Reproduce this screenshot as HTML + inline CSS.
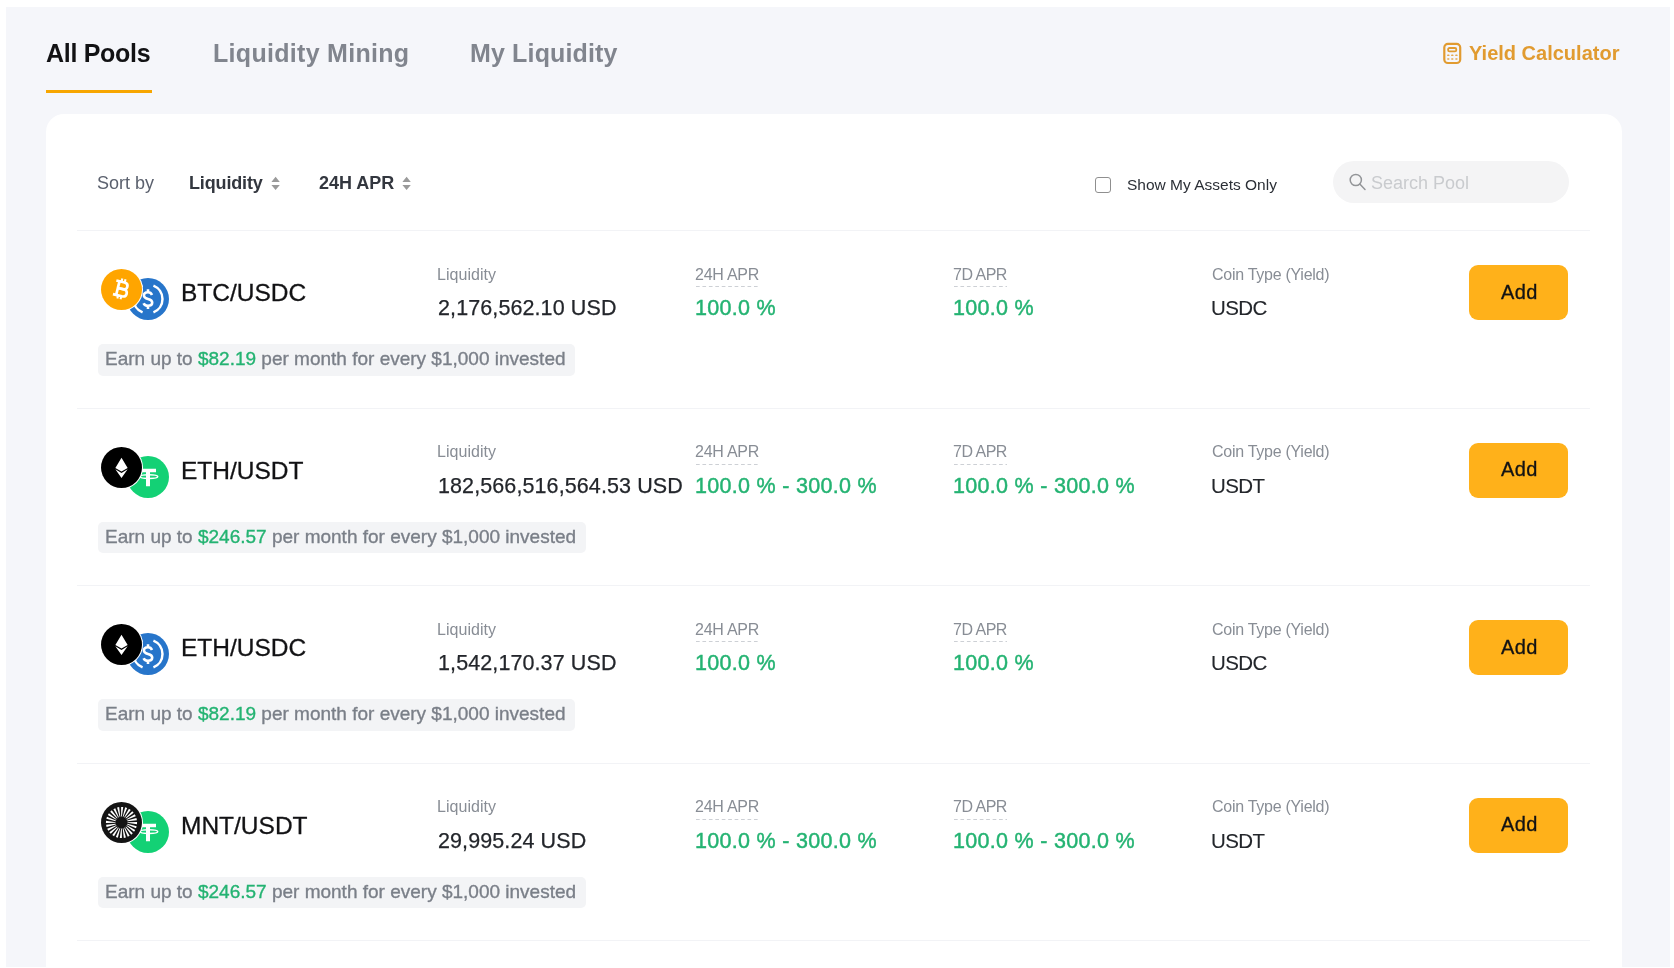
<!DOCTYPE html>
<html><head><meta charset="utf-8">
<style>
*{box-sizing:border-box;margin:0;padding:0}
html,body{width:1674px;height:968px;overflow:hidden;background:#fff;font-family:"Liberation Sans",sans-serif}
.a{position:absolute;white-space:nowrap;line-height:1;will-change:transform}
#bg{position:absolute;left:6px;top:7px;width:1664px;height:960px;background:#F5F6FA}
#card{position:absolute;left:46px;top:114px;width:1576px;height:900px;background:#fff;border-radius:18px}
.sep{position:absolute;left:77px;width:1513px;height:1px;background:#F2F3F6}
.ic{position:absolute;width:40px;height:40px}
.btn{position:absolute;left:1469px;width:99px;height:55px;border-radius:9px;background:#FFB11A}
.ban{position:absolute;left:98px;height:31.5px;border-radius:5px;background:#F3F4F6}
.dash{position:absolute;height:1.2px;background-image:linear-gradient(to right,#CDD0D5 0,#CDD0D5 4px,transparent 4px);background-size:6.45px 1.2px}
</style></head><body>
<div id="bg"></div>
<div class="a" style="left:45.5px;top:41.34px;font-size:25px;font-weight:700;color:#121214;letter-spacing:-0.3px">All Pools</div>
<div class="a" style="left:212.5px;top:41.34px;font-size:25px;font-weight:700;color:#81858E;letter-spacing:0.3px">Liquidity Mining</div>
<div class="a" style="left:469.5px;top:41.34px;font-size:25px;font-weight:700;color:#81858E;letter-spacing:0.15px">My Liquidity</div>
<div class="a" style="left:46px;top:90px;width:106px;height:3px;background:#F7A600"></div>
<svg class="a" style="left:1443px;top:42px" width="19" height="23" viewBox="0 0 19 23" fill="none" stroke="#E19B30">
<rect x="1.3" y="1.95" width="15.9" height="19.05" rx="3.6" stroke-width="2.2"/>
<rect x="5.1" y="6" width="8.2" height="3.3" rx="1.4" stroke-width="1.8"/>
<g fill="#E19B30" stroke="none" opacity="0.85">
<rect x="4.1" y="12.5" width="2.4" height="1.6" rx=".7"/><rect x="8.1" y="12.5" width="2.4" height="1.6" rx=".7"/><rect x="12.2" y="12.5" width="2.4" height="1.6" rx=".7"/>
<rect x="4.1" y="16.2" width="2.4" height="1.6" rx=".7"/><rect x="8.1" y="16.2" width="2.4" height="1.6" rx=".7"/><rect x="12.2" y="16.2" width="2.4" height="1.6" rx=".7"/>
</g></svg>
<div class="a" style="left:1469px;top:43.32px;font-size:20px;font-weight:700;color:#E19B30;">Yield Calculator</div>
<div id="card"></div>
<div class="a" style="left:97px;top:173.96px;font-size:18px;font-weight:400;color:#5B616E;">Sort by</div>
<div class="a" style="left:189px;top:173.96px;font-size:18px;font-weight:700;color:#33373F;letter-spacing:-0.15px">Liquidity</div>
<div class="a" style="left:318.5px;top:173.96px;font-size:18px;font-weight:700;color:#33373F;">24H APR</div>
<svg class="a" style="left:271px;top:176px" width="10" height="15" viewBox="0 0 10 15"><path d="M0.4 5.9 L4.6 0.8 L8.8 5.9Z M0.4 8.9 L8.8 8.9 L4.6 14Z" fill="#9A9A9A"/></svg>
<svg class="a" style="left:402.4px;top:176px" width="10" height="15" viewBox="0 0 10 15"><path d="M0.4 5.9 L4.6 0.8 L8.8 5.9Z M0.4 8.9 L8.8 8.9 L4.6 14Z" fill="#9A9A9A"/></svg>
<div class="a" style="left:1095px;top:177px;width:16px;height:16px;border:1.3px solid #8F8F8F;border-radius:3px"></div>
<div class="a" style="left:1127px;top:176.78px;font-size:15.5px;font-weight:400;color:#2B2F36;">Show My Assets Only</div>
<div class="a" style="left:1333px;top:161px;width:236px;height:42px;border-radius:21px;background:#F4F4F5"></div>
<svg class="a" style="left:1348px;top:172px" width="20" height="20" viewBox="0 0 20 20" fill="none" stroke="#939598" stroke-width="1.5"><circle cx="7.8" cy="8" r="5.6"/><path d="M11.8 12 L17 17.4" stroke-linecap="round"/></svg>
<div class="a" style="left:1371px;top:173.56px;font-size:18px;font-weight:400;color:#C9CBCE;">Search Pool</div>
<div class="sep" style="top:230px"></div>
<div class="a" style="left:127.2px;top:278.0px"><svg style="width:42px;height:42px;display:block" viewBox="0 0 42 42"><circle cx="21" cy="21" r="21" fill="#2775CA"/>
<path d="M15.57 7.56 A14.5 14.5 0 0 0 15.57 34.44 M26.43 7.56 A14.5 14.5 0 0 1 26.43 34.44" fill="none" stroke="#fff" stroke-width="2.5"/>
<path d="M25 16.9 C24.3 15.2 22.8 14.3 21 14.3 C18.5 14.3 16.9 15.7 16.9 17.6 C16.9 19.6 18.6 20.4 21 21 C23.5 21.6 25.2 22.5 25.2 24.6 C25.2 26.6 23.4 27.8 21 27.8 C18.9 27.8 17.3 26.9 16.6 25.2 M21 11.2 V14.3 M21 27.8 V30.9" fill="none" stroke="#fff" stroke-width="2.6"/>
</svg></div>
<div class="a" style="left:99.7px;top:268.1px;width:42.6px;height:42.6px;border-radius:50%;background:#fff;padding:.8px"><svg style="width:41px;height:41px;display:block" viewBox="0 0 40 40"><circle cx="20" cy="20" r="20" fill="#FFA500"/>
<g transform="translate(-0.3 -0.7) rotate(14 20.5 20.3)" fill="none" stroke="#fff" stroke-width="2.6">
<path d="M16.6 12.3 V28.3"/>
<path d="M13.4 13.4 H21.6 C24.2 13.4 25.3 14.9 25.3 16.7 C25.3 18.6 24.1 20.1 21.6 20.1 H16.6"/>
<path d="M16.6 20.1 H22.2 C24.9 20.1 26.3 21.6 26.3 23.7 C26.3 25.7 24.9 27.1 22.2 27.1 H13.4"/>
<path d="M18.6 10.2 V13.4 M21.8 10.2 V13.4 M18.6 27 V30.2 M21.8 27 V30.2" stroke-width="2"/>
</g></svg></div>
<div class="a" style="left:180.5px;top:281.16px;font-size:24.5px;font-weight:400;color:#121214;-webkit-text-stroke:0.3px #121214">BTC/USDC</div>
<div class="a" style="left:437px;top:266.66px;font-size:16px;font-weight:400;color:#888D95;letter-spacing:0.05px">Liquidity</div>
<div class="a" style="left:695px;top:266.66px;font-size:16px;font-weight:400;color:#888D95;letter-spacing:-0.25px">24H APR</div>
<div class="dash" style="left:696px;top:286.0px;width:64px"></div>
<div class="a" style="left:953px;top:266.66px;font-size:16px;font-weight:400;color:#888D95;letter-spacing:-0.5px">7D APR</div>
<div class="dash" style="left:954px;top:286.0px;width:53px"></div>
<div class="a" style="left:1211.5px;top:266.66px;font-size:16px;font-weight:400;color:#888D95;letter-spacing:-0.27px">Coin Type (Yield)</div>
<div class="a" style="left:437.5px;top:298.00px;font-size:21.5px;font-weight:400;color:#23262B;letter-spacing:0.1px;-webkit-text-stroke:0.25px #23262B">2,176,562.10 USD</div>
<div class="a" style="left:695px;top:298.00px;font-size:21.5px;font-weight:400;color:#24B372;letter-spacing:0.3px;-webkit-text-stroke:0.45px #24B372">100.0 %</div>
<div class="a" style="left:953px;top:298.00px;font-size:21.5px;font-weight:400;color:#24B372;letter-spacing:0.3px;-webkit-text-stroke:0.45px #24B372">100.0 %</div>
<div class="a" style="left:1211px;top:298.05px;font-size:20.5px;font-weight:400;color:#23262B;letter-spacing:-0.6px;-webkit-text-stroke:0.1px #23262B">USDC</div>
<div class="btn" style="top:265.0px"></div>
<div class="a" style="left:1500.5px;top:281.77px;font-size:20px;font-weight:400;color:#121214;letter-spacing:0.4px;-webkit-text-stroke:0.3px #121214">Add</div>
<div class="ban" style="top:344.0px;width:477px"></div>
<div class="a" style="left:105px;top:349.02px;font-size:19px;font-weight:400;color:#7A7F88;-webkit-text-stroke:0.35px #7A7F88">Earn up to <span style="color:#24B372;-webkit-text-stroke:0.35px #24B372">$82.19</span> per month for every $1,000 invested</div>
<div class="sep" style="top:407.5px"></div>
<div class="a" style="left:127.2px;top:455.5px"><svg style="width:42px;height:42px;display:block" viewBox="0 0 42 42"><circle cx="21" cy="21" r="21" fill="#13D175"/>
<path fill="#fff" d="M15 12.8h14v3.5h-6v13.9h-4V16.3h-4z"/>
<ellipse cx="21.9" cy="20.6" rx="8.9" ry="1.9" fill="none" stroke="#fff" stroke-width="1.4"/></svg></div>
<div class="a" style="left:99.7px;top:445.6px;width:42.6px;height:42.6px;border-radius:50%;background:#fff;padding:.8px"><svg style="width:41px;height:41px;display:block" viewBox="0 0 40 40"><circle cx="20" cy="20" r="20" fill="#000"/>
<path fill="#fff" d="M20 10.4 L26 20.4 L20 24 L14 20.4Z M20 25.4 L26 21.8 L20 30.2 L14 21.8Z"/></svg></div>
<div class="a" style="left:180.5px;top:458.66px;font-size:24.5px;font-weight:400;color:#121214;-webkit-text-stroke:0.3px #121214">ETH/USDT</div>
<div class="a" style="left:437px;top:444.16px;font-size:16px;font-weight:400;color:#888D95;letter-spacing:0.05px">Liquidity</div>
<div class="a" style="left:695px;top:444.16px;font-size:16px;font-weight:400;color:#888D95;letter-spacing:-0.25px">24H APR</div>
<div class="dash" style="left:696px;top:463.5px;width:64px"></div>
<div class="a" style="left:953px;top:444.16px;font-size:16px;font-weight:400;color:#888D95;letter-spacing:-0.5px">7D APR</div>
<div class="dash" style="left:954px;top:463.5px;width:53px"></div>
<div class="a" style="left:1211.5px;top:444.16px;font-size:16px;font-weight:400;color:#888D95;letter-spacing:-0.27px">Coin Type (Yield)</div>
<div class="a" style="left:437.5px;top:475.50px;font-size:21.5px;font-weight:400;color:#23262B;letter-spacing:0.1px;-webkit-text-stroke:0.25px #23262B">182,566,516,564.53 USD</div>
<div class="a" style="left:695px;top:475.50px;font-size:21.5px;font-weight:400;color:#24B372;letter-spacing:0.3px;-webkit-text-stroke:0.45px #24B372">100.0 % - 300.0 %</div>
<div class="a" style="left:953px;top:475.50px;font-size:21.5px;font-weight:400;color:#24B372;letter-spacing:0.3px;-webkit-text-stroke:0.45px #24B372">100.0 % - 300.0 %</div>
<div class="a" style="left:1211px;top:475.55px;font-size:20.5px;font-weight:400;color:#23262B;letter-spacing:-0.6px;-webkit-text-stroke:0.1px #23262B">USDT</div>
<div class="btn" style="top:442.5px"></div>
<div class="a" style="left:1500.5px;top:459.27px;font-size:20px;font-weight:400;color:#121214;letter-spacing:0.4px;-webkit-text-stroke:0.3px #121214">Add</div>
<div class="ban" style="top:521.5px;width:487.5px"></div>
<div class="a" style="left:105px;top:526.52px;font-size:19px;font-weight:400;color:#7A7F88;-webkit-text-stroke:0.35px #7A7F88">Earn up to <span style="color:#24B372;-webkit-text-stroke:0.35px #24B372">$246.57</span> per month for every $1,000 invested</div>
<div class="sep" style="top:585.0px"></div>
<div class="a" style="left:127.2px;top:633.0px"><svg style="width:42px;height:42px;display:block" viewBox="0 0 42 42"><circle cx="21" cy="21" r="21" fill="#2775CA"/>
<path d="M15.57 7.56 A14.5 14.5 0 0 0 15.57 34.44 M26.43 7.56 A14.5 14.5 0 0 1 26.43 34.44" fill="none" stroke="#fff" stroke-width="2.5"/>
<path d="M25 16.9 C24.3 15.2 22.8 14.3 21 14.3 C18.5 14.3 16.9 15.7 16.9 17.6 C16.9 19.6 18.6 20.4 21 21 C23.5 21.6 25.2 22.5 25.2 24.6 C25.2 26.6 23.4 27.8 21 27.8 C18.9 27.8 17.3 26.9 16.6 25.2 M21 11.2 V14.3 M21 27.8 V30.9" fill="none" stroke="#fff" stroke-width="2.6"/>
</svg></div>
<div class="a" style="left:99.7px;top:623.1px;width:42.6px;height:42.6px;border-radius:50%;background:#fff;padding:.8px"><svg style="width:41px;height:41px;display:block" viewBox="0 0 40 40"><circle cx="20" cy="20" r="20" fill="#000"/>
<path fill="#fff" d="M20 10.4 L26 20.4 L20 24 L14 20.4Z M20 25.4 L26 21.8 L20 30.2 L14 21.8Z"/></svg></div>
<div class="a" style="left:180.5px;top:636.16px;font-size:24.5px;font-weight:400;color:#121214;-webkit-text-stroke:0.3px #121214">ETH/USDC</div>
<div class="a" style="left:437px;top:621.66px;font-size:16px;font-weight:400;color:#888D95;letter-spacing:0.05px">Liquidity</div>
<div class="a" style="left:695px;top:621.66px;font-size:16px;font-weight:400;color:#888D95;letter-spacing:-0.25px">24H APR</div>
<div class="dash" style="left:696px;top:641.0px;width:64px"></div>
<div class="a" style="left:953px;top:621.66px;font-size:16px;font-weight:400;color:#888D95;letter-spacing:-0.5px">7D APR</div>
<div class="dash" style="left:954px;top:641.0px;width:53px"></div>
<div class="a" style="left:1211.5px;top:621.66px;font-size:16px;font-weight:400;color:#888D95;letter-spacing:-0.27px">Coin Type (Yield)</div>
<div class="a" style="left:437.5px;top:653.00px;font-size:21.5px;font-weight:400;color:#23262B;letter-spacing:0.1px;-webkit-text-stroke:0.25px #23262B">1,542,170.37 USD</div>
<div class="a" style="left:695px;top:653.00px;font-size:21.5px;font-weight:400;color:#24B372;letter-spacing:0.3px;-webkit-text-stroke:0.45px #24B372">100.0 %</div>
<div class="a" style="left:953px;top:653.00px;font-size:21.5px;font-weight:400;color:#24B372;letter-spacing:0.3px;-webkit-text-stroke:0.45px #24B372">100.0 %</div>
<div class="a" style="left:1211px;top:653.05px;font-size:20.5px;font-weight:400;color:#23262B;letter-spacing:-0.6px;-webkit-text-stroke:0.1px #23262B">USDC</div>
<div class="btn" style="top:620.0px"></div>
<div class="a" style="left:1500.5px;top:636.77px;font-size:20px;font-weight:400;color:#121214;letter-spacing:0.4px;-webkit-text-stroke:0.3px #121214">Add</div>
<div class="ban" style="top:699.0px;width:477px"></div>
<div class="a" style="left:105px;top:704.02px;font-size:19px;font-weight:400;color:#7A7F88;-webkit-text-stroke:0.35px #7A7F88">Earn up to <span style="color:#24B372;-webkit-text-stroke:0.35px #24B372">$82.19</span> per month for every $1,000 invested</div>
<div class="sep" style="top:762.5px"></div>
<div class="a" style="left:127.2px;top:810.5px"><svg style="width:42px;height:42px;display:block" viewBox="0 0 42 42"><circle cx="21" cy="21" r="21" fill="#13D175"/>
<path fill="#fff" d="M15 12.8h14v3.5h-6v13.9h-4V16.3h-4z"/>
<ellipse cx="21.9" cy="20.6" rx="8.9" ry="1.9" fill="none" stroke="#fff" stroke-width="1.4"/></svg></div>
<div class="a" style="left:99.7px;top:800.6px;width:42.6px;height:42.6px;border-radius:50%;background:#fff;padding:.8px"><svg style="width:41px;height:41px;display:block" viewBox="0 0 40 40"><circle cx="20" cy="20" r="20" fill="#141414"/><path d="M25.79 19.65 L35.20 19.62 L35.11 21.68 L25.79 20.35ZM25.68 21.16 L34.78 23.57 L34.16 25.54 L25.50 21.83ZM25.19 22.59 L33.35 27.27 L32.24 29.01 L24.84 23.20ZM24.34 23.85 L31.01 30.48 L29.49 31.87 L23.85 24.34ZM23.20 24.84 L27.93 32.97 L26.10 33.92 L22.59 25.19ZM21.83 25.50 L24.30 34.58 L22.28 35.03 L21.16 25.68ZM20.35 25.79 L20.38 35.20 L18.32 35.11 L19.65 25.79ZM18.84 25.68 L16.43 34.78 L14.46 34.16 L18.17 25.50ZM17.41 25.19 L12.73 33.35 L10.99 32.24 L16.80 24.84ZM16.15 24.34 L9.52 31.01 L8.13 29.49 L15.66 23.85ZM15.16 23.20 L7.03 27.93 L6.08 26.10 L14.81 22.59ZM14.50 21.83 L5.42 24.30 L4.97 22.28 L14.32 21.16ZM14.21 20.35 L4.80 20.38 L4.89 18.32 L14.21 19.65ZM14.32 18.84 L5.22 16.43 L5.84 14.46 L14.50 18.17ZM14.81 17.41 L6.65 12.73 L7.76 10.99 L15.16 16.80ZM15.66 16.15 L8.99 9.52 L10.51 8.13 L16.15 15.66ZM16.80 15.16 L12.07 7.03 L13.90 6.08 L17.41 14.81ZM18.17 14.50 L15.70 5.42 L17.72 4.97 L18.84 14.32ZM19.65 14.21 L19.62 4.80 L21.68 4.89 L20.35 14.21ZM21.16 14.32 L23.57 5.22 L25.54 5.84 L21.83 14.50ZM22.59 14.81 L27.27 6.65 L29.01 7.76 L23.20 15.16ZM23.85 15.66 L30.48 8.99 L31.87 10.51 L24.34 16.15ZM24.84 16.80 L32.97 12.07 L33.92 13.90 L25.19 17.41ZM25.50 18.17 L34.58 15.70 L35.03 17.72 L25.68 18.84Z" fill="#fff"/><circle cx="20" cy="20" r="4.4" fill="#141414"/></svg></div>
<div class="a" style="left:180.5px;top:813.66px;font-size:24.5px;font-weight:400;color:#121214;-webkit-text-stroke:0.3px #121214">MNT/USDT</div>
<div class="a" style="left:437px;top:799.16px;font-size:16px;font-weight:400;color:#888D95;letter-spacing:0.05px">Liquidity</div>
<div class="a" style="left:695px;top:799.16px;font-size:16px;font-weight:400;color:#888D95;letter-spacing:-0.25px">24H APR</div>
<div class="dash" style="left:696px;top:818.5px;width:64px"></div>
<div class="a" style="left:953px;top:799.16px;font-size:16px;font-weight:400;color:#888D95;letter-spacing:-0.5px">7D APR</div>
<div class="dash" style="left:954px;top:818.5px;width:53px"></div>
<div class="a" style="left:1211.5px;top:799.16px;font-size:16px;font-weight:400;color:#888D95;letter-spacing:-0.27px">Coin Type (Yield)</div>
<div class="a" style="left:437.5px;top:830.50px;font-size:21.5px;font-weight:400;color:#23262B;letter-spacing:0.1px;-webkit-text-stroke:0.25px #23262B">29,995.24 USD</div>
<div class="a" style="left:695px;top:830.50px;font-size:21.5px;font-weight:400;color:#24B372;letter-spacing:0.3px;-webkit-text-stroke:0.45px #24B372">100.0 % - 300.0 %</div>
<div class="a" style="left:953px;top:830.50px;font-size:21.5px;font-weight:400;color:#24B372;letter-spacing:0.3px;-webkit-text-stroke:0.45px #24B372">100.0 % - 300.0 %</div>
<div class="a" style="left:1211px;top:830.55px;font-size:20.5px;font-weight:400;color:#23262B;letter-spacing:-0.6px;-webkit-text-stroke:0.1px #23262B">USDT</div>
<div class="btn" style="top:797.5px"></div>
<div class="a" style="left:1500.5px;top:814.27px;font-size:20px;font-weight:400;color:#121214;letter-spacing:0.4px;-webkit-text-stroke:0.3px #121214">Add</div>
<div class="ban" style="top:876.5px;width:487.5px"></div>
<div class="a" style="left:105px;top:881.52px;font-size:19px;font-weight:400;color:#7A7F88;-webkit-text-stroke:0.35px #7A7F88">Earn up to <span style="color:#24B372;-webkit-text-stroke:0.35px #24B372">$246.57</span> per month for every $1,000 invested</div>
<div class="sep" style="top:940.0px"></div>
</body></html>
